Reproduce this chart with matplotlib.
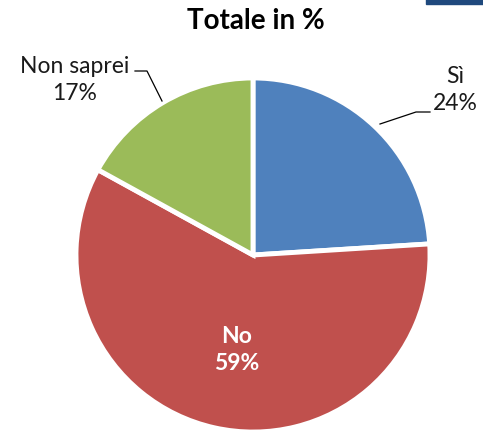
import matplotlib
matplotlib.use("Agg")
import matplotlib.pyplot as plt
from matplotlib.patches import Rectangle

# data
labels = ["Sì", "No", "Non saprei"]
values = [24, 59, 17]
colors = ["#4F81BD", "#C0504D", "#9BBB59"]
title = "Totale in %"

plt.rcParams['font.family'] = ['Lato', 'DejaVu Sans']

W, H = 483, 435
fig = plt.figure(figsize=(W / 100, H / 100), dpi=100)
ax = fig.add_axes([0, 0, 1, 1])

def py(y):
    # image y (from top) -> axes y
    return H - y

cx, cy, r = 253, 256, 177
ax.pie(values, colors=colors, startangle=90, counterclock=False,
       center=(cx, py(cy)), radius=r, explode=[0.025] * 3,
       wedgeprops=dict(edgecolor='white', linewidth=3.5), frame=True)
ax.set_xlim(0, W)
ax.set_ylim(0, H)
ax.set_aspect('equal')
ax.axis('off')

# dark bar top right
ax.add_patch(Rectangle((426, py(5)), W - 426, 6, color="#1F497D", clip_on=False))

ax.text(256, py(21), title, ha='center', va='center', fontsize=20,
        fontweight='bold', color='black')

# labels with leader lines
ax.text(455, py(90), f"{labels[0]}\n{values[0]}%", ha='center', va='center',
        fontsize=16.5, color='#1a1a1a', linespacing=1.35)
ax.plot([380, 416, 430], [py(125), py(113), py(113)], color='black', lw=0.9)

ax.text(75, py(80), f"{labels[2]}\n{values[2]}%", ha='center', va='center',
        fontsize=16.5, color='#1a1a1a', linespacing=1.35)
ax.plot([135, 147, 162], [py(72), py(72), py(102)], color='black', lw=0.9)

ax.text(237, py(350), f"{labels[1]}\n{values[1]}%", ha='center', va='center',
        fontsize=16.5, fontweight='bold', color='white', linespacing=1.35)

fig.savefig("out.png", dpi=100)
